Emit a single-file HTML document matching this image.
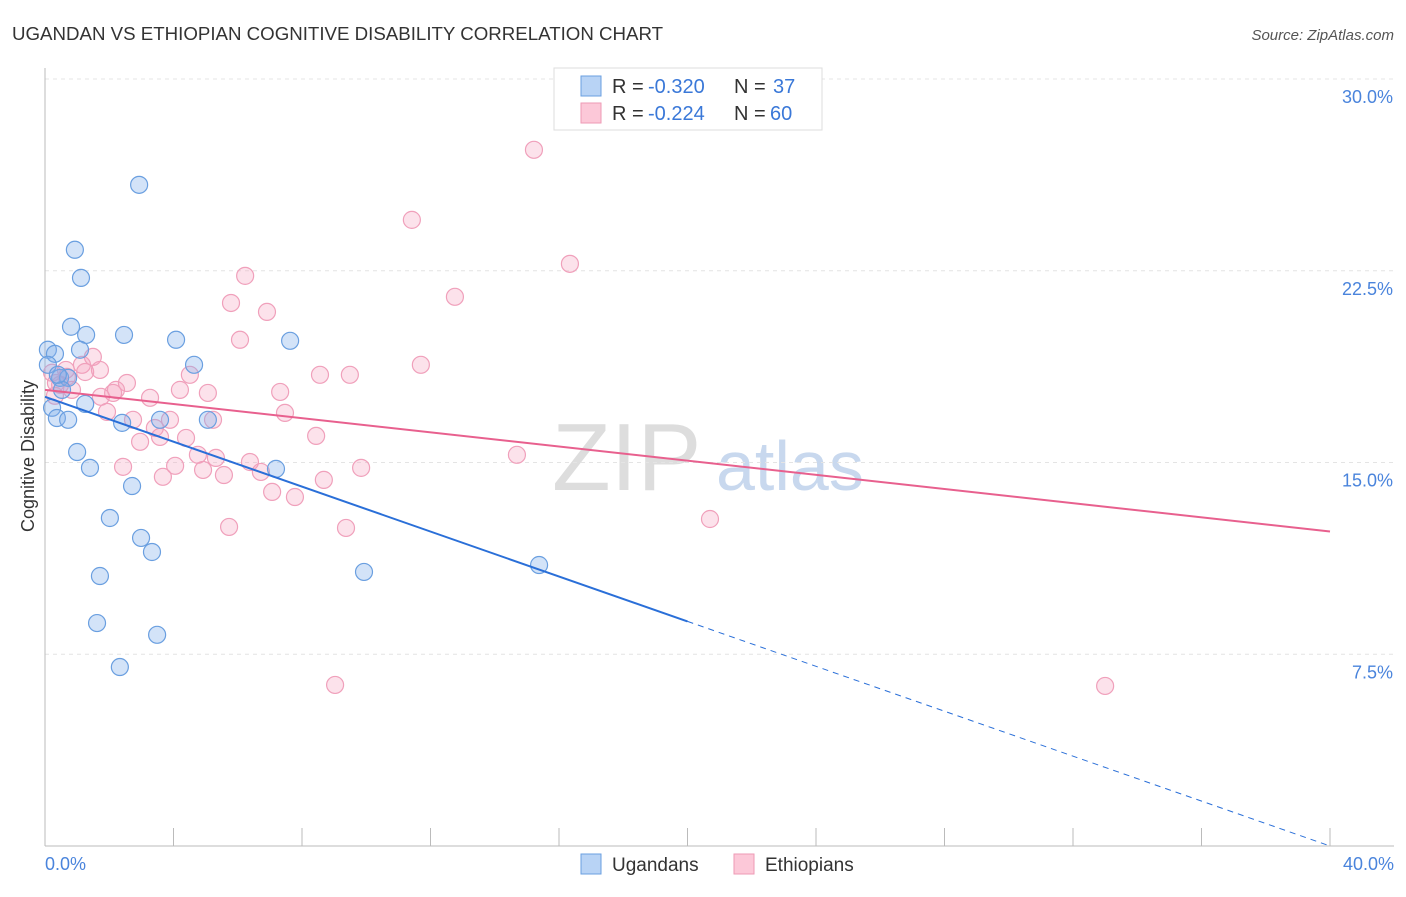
<!DOCTYPE html>
<html><head><meta charset="utf-8"><style>
body{margin:0;background:#fff;font-family:"Liberation Sans",sans-serif}
svg text{font-family:"Liberation Sans",sans-serif}
</style></head><body>
<svg id="chart" width="1406" height="892">
<text x="12" y="40" font-size="18.7" fill="#333">UGANDAN VS ETHIOPIAN COGNITIVE DISABILITY CORRELATION CHART</text>
<text x="1394" y="40" font-size="15" fill="#555" font-style="italic" text-anchor="end">Source: ZipAtlas.com</text>
<text x="552" y="490" font-size="96" fill="#ddd" font-family="Liberation Serif">ZIP</text>
<text x="716" y="490" font-size="70" fill="#c8d8ee">atlas</text>
<g id="grid"></g>
<g id="axes"></g>
<g id="pts"></g>
<g id="lines"></g>
<text transform="translate(34,456) rotate(-90)" font-size="18" fill="#333" text-anchor="middle">Cognitive Disability</text>
<g>
<rect x="554" y="68" width="268" height="62" fill="#fff" stroke="#ddd"/>
<rect x="581" y="76" width="20" height="20" fill="#b8d3f5" stroke="#6a9fe0"/>
<rect x="581" y="103" width="20" height="20" fill="#fcc8d8" stroke="#ee9ab5"/>
<text x="612" y="93" font-size="20" fill="#333">R =</text>
<text x="648" y="93" font-size="20" fill="#3a78d8">-0.320</text>
<text x="734" y="93" font-size="20" fill="#333">N =</text>
<text x="773" y="93" font-size="20" fill="#3a78d8">37</text>
<text x="612" y="120" font-size="20" fill="#333">R =</text>
<text x="648" y="120" font-size="20" fill="#3a78d8">-0.224</text>
<text x="734" y="120" font-size="20" fill="#333">N =</text>
<text x="770" y="120" font-size="20" fill="#3a78d8">60</text>
</g>
<g>
<rect x="581" y="854" width="20" height="20" fill="#b8d3f5" stroke="#6a9fe0"/>
<text x="612" y="871" font-size="19" fill="#333">Ugandans</text>
<rect x="734" y="854" width="20" height="20" fill="#fcc8d8" stroke="#ee9ab5"/>
<text x="765" y="871" font-size="19" fill="#333">Ethiopians</text>
</g>
</svg>
<script>
const yTicks=[7.5,15,22.5,30];
const yTickLabels=["7.5%","15.0%","22.5%","30.0%"];
const blueX=[2.93,0.93,1.12,0.81,1.28,2.46,4.08,7.63,0.09,0.31,1.09,4.64,0.47,0.72,0.53,1.25,0.22,0.37,0.72,2.40,3.58,5.07,1.00,1.40,7.19,2.71,2.02,2.99,3.33,15.38,1.71,9.93,1.62,3.49,2.33,0.09,0.40];
const blueY=[25.86,23.32,22.22,20.31,19.99,19.99,19.80,19.76,19.41,19.25,19.41,18.82,18.31,18.31,17.84,17.29,17.14,16.74,16.67,16.55,16.67,16.67,15.41,14.79,14.75,14.08,12.83,12.05,11.50,10.99,10.56,10.72,8.72,8.26,7.00,18.82,18.43];
const pinkX=[15.22,11.42,16.34,6.23,12.76,5.79,6.91,6.07,1.49,11.70,1.15,8.56,9.49,4.51,0.65,0.22,1.25,2.55,4.20,2.12,5.07,7.32,3.27,0.84,1.74,0.34,1.93,7.47,2.74,3.89,5.23,3.42,8.44,4.39,3.58,2.96,14.69,4.76,5.32,6.38,4.05,2.43,9.84,4.92,6.72,5.57,3.67,8.68,7.07,7.78,20.70,5.73,9.37,9.03,33.00,0.47,2.21,0.68,0.31,1.71];
const pinkY=[27.23,24.49,22.77,22.30,21.48,21.24,20.89,19.80,19.13,18.82,18.82,18.43,18.43,18.43,18.62,18.51,18.54,18.11,17.84,17.72,17.72,17.76,17.53,17.84,17.57,18.11,16.98,16.94,16.67,16.67,16.67,16.35,16.04,15.96,16.00,15.81,15.30,15.30,15.18,15.02,14.87,14.83,14.79,14.71,14.63,14.51,14.44,14.32,13.85,13.65,12.79,12.48,12.44,6.30,6.26,18.04,17.84,18.35,17.61,18.62];
const blueTrend=[17.57,0];
const pinkTrend=[17.84,12.3];
const xMax=40;
const sx=v=>45+v*(1330-45)/xMax;
const sy=v=>846-v*(846-79)/30;
const NS="http://www.w3.org/2000/svg";
function mk(tag,parent,attrs){const e=document.createElementNS(NS,tag);for(const k in attrs)e.setAttribute(k,attrs[k]);parent.appendChild(e);return e;}
const grid=document.getElementById('grid'),axes=document.getElementById('axes'),pts=document.getElementById('pts'),lines=document.getElementById('lines');
yTicks.forEach((t,i)=>{
 const g=mk('line',grid,{x1:45,x2:1394,y1:sy(t),y2:sy(t),stroke:'#e4e4e4','stroke-dasharray':'4,4'});
 
 
 const l=mk('text',axes,{x:1393,y:sy(t)+24,'font-size':18,fill:'#4a84dc','text-anchor':'end'});
 l.textContent=yTickLabels[i];
 
 
});
const ax=mk('line',axes,{x1:45,x2:1394,y1:846,y2:846,stroke:'#bbb'});


const ay=mk('line',axes,{x1:45,x2:45,y1:68,y2:846,stroke:'#bbb'});


for(let i=1;i<=10;i++){const t=mk('line',axes,{x1:sx(i*4),x2:sx(i*4),y1:828,y2:846,stroke:'#bbb'});
 
 }
const x0=mk('text',axes,{x:45,y:870,'font-size':18,fill:'#4a84dc'});x0.textContent='0.0%';


const x1=mk('text',axes,{x:1394,y:870,'font-size':18,fill:'#4a84dc','text-anchor':'end'});x1.textContent='40.0%';


pinkX.forEach((x,i)=>{const c=mk('circle',pts,{cx:sx(x),cy:sy(pinkY[i]),r:8.5,fill:'rgba(245,160,190,0.3)',stroke:'#f0a0bb','stroke-width':1.2});
 
 });
blueX.forEach((x,i)=>{const c=mk('circle',pts,{cx:sx(x),cy:sy(blueY[i]),r:8.5,fill:'rgba(130,175,235,0.35)',stroke:'#6a9fe0','stroke-width':1.2});
 
 });
const by=x=>blueTrend[0]+(blueTrend[1]-blueTrend[0])*x/xMax;
const bl=mk('line',lines,{x1:sx(0),y1:sy(by(0)),x2:sx(20),y2:sy(by(20)),stroke:'#2a6fd8','stroke-width':2});


const bd=mk('line',lines,{x1:sx(20),y1:sy(by(20)),x2:sx(40),y2:sy(by(40)),stroke:'#2a6fd8','stroke-width':1,'stroke-dasharray':'6,5'});


const pl=mk('line',lines,{x1:sx(0),y1:sy(pinkTrend[0]),x2:sx(40),y2:sy(pinkTrend[1]),stroke:'#e8608e','stroke-width':2});


</script>
</body></html>
